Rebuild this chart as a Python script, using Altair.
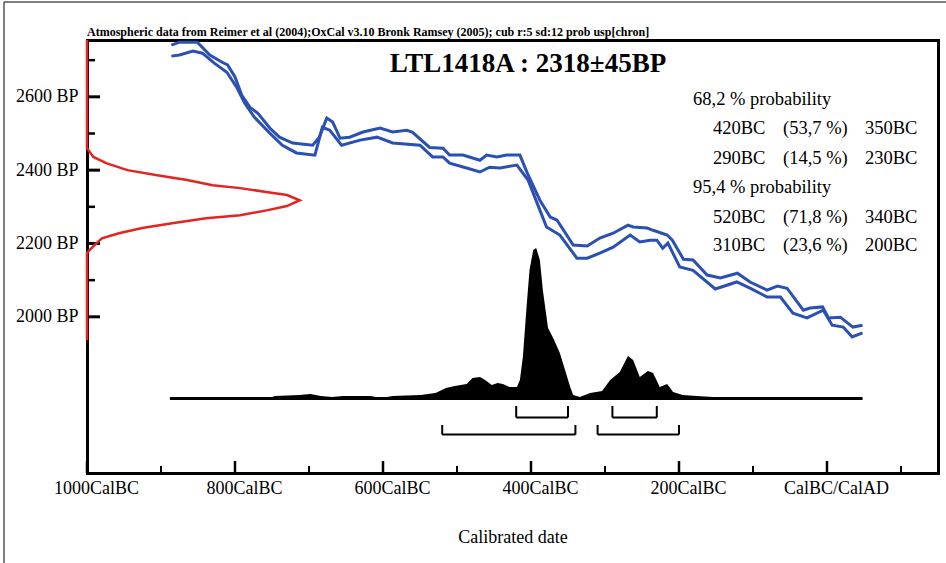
import altair as alt
import pandas as pd

FONT = "Liberation Serif"

# ---------------- data ----------------
# calibration curve, upper (+1 sigma) and lower (-1 sigma) lines
upper_t = [-886, -875, -851, -834, -818, -810, -800, -791, -780, -769,
           -753, -740, -722, -695, -686, -676, -668, -658, -645, -627,
           -604, -587, -568, -560, -537, -519, -510, -492, -469, -460,
           -446, -433, -415, -405, -388, -374, -365, -343, -324, -307,
           -289, -269, -262, -243, -235, -216, -209, -194, -181, -162,
           -144, -121, -104, -81, -67, -54, -32, -23, -6, 2,
           18, 35, 48]
upper_bp = [2741, 2749, 2749, 2714, 2695, 2687, 2654, 2605, 2572, 2555,
            2515, 2490, 2474, 2468, 2490, 2542, 2531, 2487, 2490, 2504,
            2515, 2504, 2509, 2503, 2462, 2460, 2441, 2441, 2427, 2441,
            2436, 2441, 2441, 2392, 2318, 2272, 2264, 2196, 2193, 2215,
            2228, 2250, 2245, 2242, 2236, 2223, 2209, 2157, 2155, 2114,
            2106, 2119, 2095, 2073, 2084, 2078, 2018, 2024, 2027, 1997,
            1999, 1972, 1977]
lower_t = [-886, -875, -857, -844, -828, -811, -798, -787, -774, -753,
           -736, -717, -692, -682, -672, -656, -631, -608, -587, -550,
           -533, -519, -510, -487, -469, -456, -442, -419, -404, -388,
           -379, -361, -338, -324, -307, -289, -266, -253, -239, -230,
           -222, -215, -199, -181, -151, -122, -104, -81, -63, -46,
           -27, -5, 7, 22, 34, 48]
lower_bp = [2711, 2714, 2725, 2719, 2692, 2667, 2627, 2583, 2545, 2501,
            2468, 2447, 2441, 2517, 2509, 2468, 2482, 2490, 2474, 2468,
            2436, 2436, 2419, 2406, 2395, 2408, 2406, 2414, 2373, 2291,
            2245, 2223, 2160, 2160, 2174, 2190, 2223, 2204, 2209, 2209,
            2187, 2201, 2136, 2127, 2076, 2095, 2078, 2054, 2054, 2010,
            1997, 2018, 1977, 1972, 1945, 1956]

# radiocarbon measurement distribution (relative density) along BP
red_bp = [2755, 2460, 2436, 2419, 2400, 2386, 2373, 2359, 2351, 2340,
          2332, 2318, 2302, 2291, 2277, 2269, 2255, 2242, 2228, 2214,
          2201, 2182, 2174, 1936]
red_dens = [0, 0, 0.03, 0.09, 0.19, 0.33, 0.47, 0.59, 0.72, 0.85,
            0.94, 1.0, 0.94, 0.85, 0.72, 0.56, 0.40, 0.26, 0.15, 0.07,
            0.045, 0.012, 0, 0]

# calibrated date distribution (relative probability)
cal_t = [-888, -756, -746, -713, -698, -684, -669, -654, -617, -602,
         -587, -549, -529, -515, -503, -487, -479, -469, -462, -453,
         -445, -438, -429, -419, -415, -411, -406, -402, -397, -393,
         -388, -384, -377, -370, -361, -354, -347, -343, -334, -320,
         -304, -293, -280, -269, -262, -253, -242, -235, -226, -216,
         -208, -195, -176, -154, -131, 48]
cal_p = [0, 0, 0.017, 0.023, 0.03, 0.017, 0.01, 0.017, 0.017, 0.003,
         0.017, 0.023, 0.037, 0.07, 0.083, 0.096, 0.136, 0.143, 0.123, 0.09,
         0.103, 0.096, 0.076, 0.076, 0.123, 0.276, 0.608, 0.854, 0.987, 1.0,
         0.92, 0.721, 0.468, 0.402, 0.302, 0.189, 0.076, 0.023, 0.01, 0.037,
         0.05, 0.123, 0.176, 0.282, 0.256, 0.143, 0.183, 0.169, 0.076, 0.096,
         0.043, 0.023, 0.017, 0.01, 0, 0]

# ranges
r68_from = [-420, -290]
r68_to = [-350, -230]
r68_pct = ["53,7", "14,5"]
r95_from = [-520, -310]
r95_to = [-340, -200]
r95_pct = ["71,8", "23,6"]

sample_id = "LTL1418A"
c14_age = 2318
c14_err = 45
header_text = ("Atmospheric data from Reimer et al (2004);OxCal v3.10 Bronk Ramsey (2005); "
               "cub r:5 sd:12 prob usp[chron]")

x_major = [-1000, -800, -600, -400, -200, 0]
x_minor = [-900, -700, -500, -300, -100, 100]
y_major = [2000, 2200, 2400, 2600]
y_minor = [2100, 2300, 2500, 2700]

# ---------------- layout ----------------
W, H = 851, 433
XS = alt.Scale(domain=[-1000, 150], nice=False, zero=False)
YS = alt.Scale(domain=[1574, 2755], nice=False, zero=False)
PS = alt.Scale(domain=[-0.495, 2.382], nice=False, zero=False)
RS = alt.Scale(domain=[0, 4.0], nice=False, zero=False)
BLUE = "#2b50b3"
RED = "#e52420"

blue_df = pd.concat([
    pd.DataFrame({"t": upper_t, "bp": upper_bp, "s": "upper"}),
    pd.DataFrame({"t": lower_t, "bp": lower_bp, "s": "lower"}),
])
red_df = pd.DataFrame({"bp": red_bp, "d": red_dens, "i": list(range(len(red_bp)))})
cal_df = pd.DataFrame({"t": cal_t, "p": cal_p, "z": 0})

blue = alt.Chart(blue_df).mark_line(color=BLUE, strokeWidth=3).encode(
    x=alt.X("t:Q", scale=XS, axis=alt.Axis(
        values=x_major,
        labelExpr="datum.value == 0 ? 'CalBC/CalAD' : (-datum.value) + 'CalBC'",
        ticks=False, grid=False, domainColor="black", domainWidth=3, domainCap="square",
        labelFont=FONT, labelFontSize=18, labelColor="black", labelPadding=6, labelOffset=9,
        labelFlush=False, labelOverlap=False,
        title="Calibrated date", titleFont=FONT, titleFontSize=18,
        titleFontWeight="normal", titleColor="black", titlePadding=31)),
    y=alt.Y("bp:Q", scale=YS, axis=alt.Axis(
        values=y_major, labelExpr="datum.value + ' BP'",
        ticks=False, grid=False, domainColor="black", domainWidth=3, domainCap="square",
        labelFont=FONT, labelFontSize=18, labelColor="black", labelPadding=9,
        labelFlush=False, labelOverlap=False, title=None)),
    detail="s:N",
)

cal_area = alt.Chart(cal_df).mark_area(color="black").encode(
    x=alt.X("t:Q", scale=XS, axis=alt.Axis(
        orient="top", labels=False, ticks=False, grid=False, title=None,
        domainColor="black", domainWidth=3, domainCap="square")),
    y=alt.Y("p:Q", scale=PS, axis=alt.Axis(
        orient="right", labels=False, ticks=False, grid=False, title=None,
        domainColor="black", domainWidth=3, domainCap="square")),
    y2="z:Q",
)

base_df = pd.DataFrame({"a": [cal_t[0]], "b": [cal_t[-1]], "z": [0]})
baseline = alt.Chart(base_df).mark_rule(color="black", strokeWidth=3).encode(
    x=alt.X("a:Q", scale=XS, axis=None), x2="b:Q",
    y=alt.Y("z:Q", scale=PS, axis=None),
)

# bracket levels (layout, in probability-scale units)
LEV = {"68": (-0.126, -0.050), "95": (-0.240, -0.176)}
br_rows = []
for f, t in zip(r68_from, r68_to):
    br_rows.append({"a": f, "b": t, "yh": LEV["68"][0], "yt": LEV["68"][1]})
for f, t in zip(r95_from, r95_to):
    br_rows.append({"a": f, "b": t, "yh": LEV["95"][0], "yt": LEV["95"][1]})
br_df = pd.DataFrame(br_rows)
br_v = pd.concat([
    br_df[["a", "yh", "yt"]].rename(columns={"a": "x"}),
    br_df[["b", "yh", "yt"]].rename(columns={"b": "x"}),
])
br_h = alt.Chart(br_df).mark_rule(color="black", strokeWidth=2).encode(
    x=alt.X("a:Q", scale=XS, axis=None), x2="b:Q",
    y=alt.Y("yh:Q", scale=PS, axis=None),
)
br_ticks = alt.Chart(br_v).mark_rule(color="black", strokeWidth=2).encode(
    x=alt.X("x:Q", scale=XS, axis=None),
    y=alt.Y("yh:Q", scale=PS, axis=None), y2="yt:Q",
)

red = alt.Chart(red_df).mark_line(color=RED, strokeWidth=2.5).encode(
    x=alt.X("d:Q", scale=RS, axis=None),
    y=alt.Y("bp:Q", scale=YS, axis=None),
    order="i:Q",
)

ytm = alt.Chart(pd.DataFrame({"v": y_major})).mark_rule(color="black", strokeWidth=3).encode(
    y=alt.Y("v:Q", scale=YS, axis=None), x=alt.value(0), x2=alt.value(13))
ytn = alt.Chart(pd.DataFrame({"v": y_minor})).mark_rule(color="black", strokeWidth=2.5).encode(
    y=alt.Y("v:Q", scale=YS, axis=None), x=alt.value(0), x2=alt.value(8))
xtm = alt.Chart(pd.DataFrame({"v": x_major})).mark_rule(color="black", strokeWidth=2.5).encode(
    x=alt.X("v:Q", scale=XS, axis=None), y=alt.value(H), y2=alt.value(H - 12))
xtn = alt.Chart(pd.DataFrame({"v": x_minor})).mark_rule(color="black", strokeWidth=2).encode(
    x=alt.X("v:Q", scale=XS, axis=None), y=alt.value(H), y2=alt.value(H - 7))

# header (source note) above the frame
head_df = pd.DataFrame({"label": [header_text]})
head_txt = alt.Chart(head_df).mark_text(
    font=FONT, fontSize=12, fontWeight="bold", color="black", align="left", baseline="alphabetic"
).encode(text="label:N", x=alt.value(0), y=alt.value(-4))

# title text
title_df = pd.DataFrame({"label": [f"{sample_id} : {c14_age}\u00b1{c14_err}BP"]})
title_txt = alt.Chart(title_df).mark_text(
    font=FONT, fontSize=27, fontWeight="bold", color="black", align="center", baseline="middle"
).encode(text="label:N", x=alt.value(441), y=alt.value(24))

# probability text block
HX, C1, C2, C3 = 606, 626, 696, 778
rows = []
rows.append({"txt": "68,2 % probability", "px": HX, "py": 59})
ys68 = [88, 118]
for (f, t, p), yy in zip(zip(r68_from, r68_to, r68_pct), ys68):
    rows += [{"txt": f"{-f}BC", "px": C1, "py": yy},
             {"txt": f"({p} %)", "px": C2, "py": yy},
             {"txt": f"{-t}BC", "px": C3, "py": yy}]
rows.append({"txt": "95,4 % probability", "px": HX, "py": 147})
ys95 = [177, 205]
for (f, t, p), yy in zip(zip(r95_from, r95_to, r95_pct), ys95):
    rows += [{"txt": f"{-f}BC", "px": C1, "py": yy},
             {"txt": f"({p} %)", "px": C2, "py": yy},
             {"txt": f"{-t}BC", "px": C3, "py": yy}]
prob_df = pd.DataFrame(rows)
prob_txt = alt.Chart(prob_df).mark_text(
    font=FONT, fontSize=18.5, color="black", align="left", baseline="middle"
).encode(text="txt:N", x=alt.X("px:Q", scale=None), y=alt.Y("py:Q", scale=None))

# outer picture border
border_df = pd.DataFrame({"k": [0]})
border_left = alt.Chart(border_df).mark_rule(color="#555555", strokeWidth=1.5).encode(
    x=alt.value(-83), y=alt.value(-38), y2=alt.value(H + 90))
border_top = alt.Chart(border_df).mark_rule(color="#555555", strokeWidth=1.5).encode(
    x=alt.value(-83), x2=alt.value(W + 8), y=alt.value(-38))

chart = alt.layer(
    blue, cal_area, baseline, br_h, br_ticks, ytm, ytn, xtm, xtn, red,
    head_txt, title_txt, prob_txt, border_left, border_top,
).resolve_scale(
    x="independent", y="independent"
).properties(
    width=W, height=H,
    autosize=alt.AutoSizeParams(type="none"),
    padding={"left": 87, "top": 40, "right": 8, "bottom": 90},
).configure_view(stroke=None).configure(background="white")

chart.save("out.html", embed_options={"renderer": "svg", "actions": False})
